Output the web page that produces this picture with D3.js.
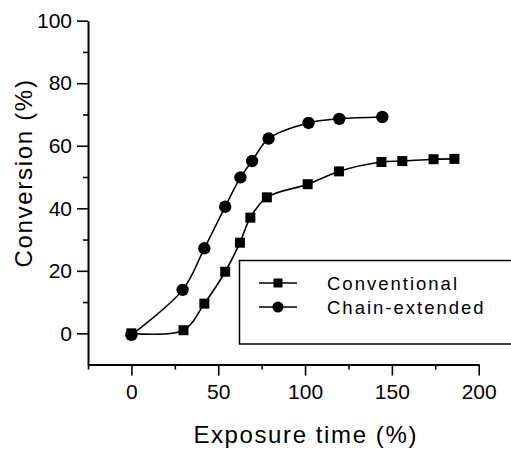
<!DOCTYPE html>
<html>
<head>
<meta charset="utf-8">
<script src="https://cdn.jsdelivr.net/npm/d3@7"></script>
<style>
    body { margin: 0; background: #fff; }
    svg { display: block; font-family: "Liberation Sans", Arial, sans-serif; }
</style>
</head>
<body>
<div id="chart"></div>
<script>
// values
var convX = [0, 30, 42, 54, 62.5, 68.5, 78, 101.5, 119.5, 144, 156, 174, 186];
var convY = [0, 1, 9.5, 19.7, 29, 37, 43.5, 47.7, 51.8, 54.8, 55.1, 55.7, 55.8];
var chainX = [0, 29.5, 42, 54, 62.8, 69.5, 79, 102, 119.7, 144.5];
var chainY = [-0.5, 13.9, 27.2, 40.5, 49.9, 55.1, 62.3, 67.3, 68.6, 69.2];

var xMajor = [0, 50, 100, 150, 200];
var xMinor = [-25, 25, 75, 125, 175];
var yMajor = [0, 20, 40, 60, 80, 100];
var yMinor = [10, 30, 50, 70, 90];

var seriesNames = ["Conventional", "Chain-extended"];

var margin = { top: 20.7, right: 32.3, bottom: 86.4, left: 88 },
    width = 511 - margin.left - margin.right,
    height = 451 - margin.top - margin.bottom;

var svg = d3.select("#chart")
    .append("svg")
    .attr("width", 511)
    .attr("height", 451)
    .append("g")
    .attr("transform", "translate(" + margin.left + "," + margin.top + ")");

var x = d3.scaleLinear().domain([-25, 200]).range([0, width]);
var y = d3.scaleLinear().domain([-10, 100]).range([height, 0]);

// X axis
var xAxis = svg.append("g")
    .attr("transform", "translate(0," + height + ")")
    .call(d3.axisBottom(x).tickValues(xMajor).tickSize(11).tickSizeOuter(0).tickPadding(4));
svg.append("g")
    .attr("transform", "translate(0," + height + ")")
    .call(d3.axisBottom(x).tickValues(xMinor).tickSize(5).tickFormat("").tickSizeOuter(0))
    .select(".domain").remove();

// Y axis
var yAxis = svg.append("g")
    .call(d3.axisLeft(y).tickValues(yMajor).tickSize(11).tickSizeOuter(0).tickPadding(5));
svg.append("g")
    .call(d3.axisLeft(y).tickValues(yMinor).tickSize(5).tickFormat("").tickSizeOuter(0))
    .select(".domain").remove();

svg.selectAll(".domain").attr("stroke", "#000").attr("stroke-width", 2);
svg.selectAll(".tick line").attr("stroke", "#000").attr("stroke-width", 1.6);
svg.selectAll(".tick text")
    .attr("fill", "#000")
    .style("font-size", "21px")
    .style("font-family", "'Liberation Sans', Arial, sans-serif");
xAxis.selectAll(".tick text").attr("dy", "0.93em");

// axis titles
svg.append("text")
    .attr("x", 305.7 - margin.left)
    .attr("y", 443 - margin.top)
    .attr("text-anchor", "middle")
    .style("font-size", "24px")
    .style("letter-spacing", "1.6px")
    .text("Exposure time (%)");

svg.append("text")
    .attr("transform", "translate(" + (31.5 - margin.left) + "," + (173 - margin.top) + ") rotate(-90)")
    .attr("text-anchor", "middle")
    .style("font-size", "24px")
    .style("letter-spacing", "1.7px")
    .text("Conversion (%)");

// curves
var line = d3.line()
    .x(d => x(d[0]))
    .y(d => y(d[1]))
    .curve(d3.curveCatmullRom.alpha(0.5));

var conv = convX.map((v, i) => [v, convY[i]]);
var chain = chainX.map((v, i) => [v, chainY[i]]);

[conv, chain].forEach(function (pts) {
    svg.append("path")
        .datum(pts)
        .attr("d", line)
        .attr("fill", "none")
        .attr("stroke", "#000")
        .attr("stroke-width", 1.6);
});

var sq = 10;
svg.selectAll(".sq")
    .data(conv)
    .enter()
    .append("rect")
    .attr("x", d => x(d[0]) - sq / 2)
    .attr("y", d => y(d[1]) - sq / 2)
    .attr("width", sq)
    .attr("height", sq)
    .attr("fill", "#000");

svg.selectAll(".dot")
    .data(chain)
    .enter()
    .append("circle")
    .attr("cx", d => x(d[0]))
    .attr("cy", d => y(d[1]))
    .attr("r", 6.2)
    .attr("fill", "#000");

// legend box runs off the right edge in the original
var root = d3.select("#chart svg");
root.append("path")
    .attr("d", "M511,260.5 H239.5 V344 H511")
    .attr("fill", "none")
    .attr("stroke", "#000")
    .attr("stroke-width", 1.5);

var legend = root.selectAll(".legend")
    .data(seriesNames)
    .enter()
    .append("g")
    .attr("class", "legend")
    .attr("transform", (d, i) => "translate(0," + (283 + i * 24) + ")");

legend.append("line")
    .attr("x1", 259)
    .attr("x2", 297)
    .attr("stroke", "#000")
    .attr("stroke-width", 1.6);

legend.filter((d, i) => i == 0).append("rect")
    .attr("x", 278 - 4.5)
    .attr("y", -4.5)
    .attr("width", 9)
    .attr("height", 9)
    .attr("fill", "#000");

legend.filter((d, i) => i == 1).append("circle")
    .attr("cx", 278)
    .attr("r", 5.5)
    .attr("fill", "#000");

legend.append("text")
    .attr("x", 327)
    .attr("y", 6.5)
    .style("font-size", "18.5px")
    .style("letter-spacing", "2px")
    .text(d => d);
</script>
</body>
</html>
